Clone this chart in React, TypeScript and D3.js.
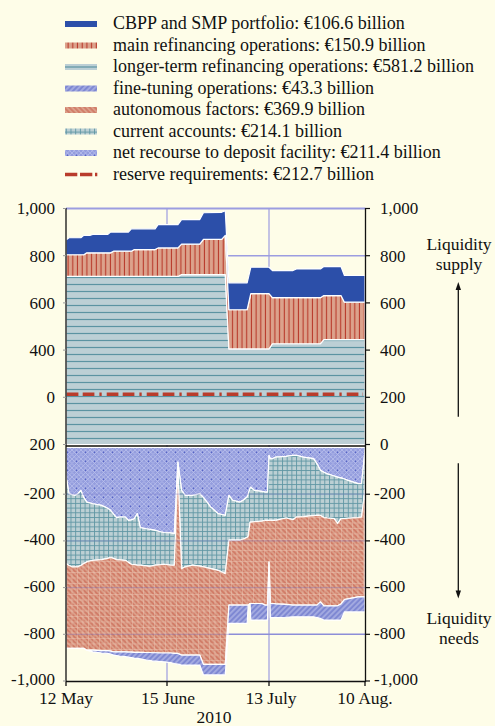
import React from 'react';
import * as d3 from 'd3';

// ---------- data ----------
const BASE = new Date(2010, 4, 12);
const tickDates = [new Date(2010, 4, 12), new Date(2010, 5, 15), new Date(2010, 6, 13), new Date(2010, 7, 10)];
const tickLabels = ['12 May', '15 June', '13 July', '10 Aug.'];
const yearLabel = '2010';

// liquidity supply (EUR bn), day offsets from 12 May 2010
const supplyDays = [0, 1, 5, 6, 7, 8, 9, 14, 15, 16, 21, 22, 23, 30, 31, 37, 38, 43, 44, 49, 50, 51, 56, 57, 62, 63, 69, 70, 77, 78, 83, 84, 90];
const ltroValues = [712, 712, 712, 712, 712, 712, 712, 712, 712, 712, 712, 712, 712, 712, 712, 712, 720, 720, 720, 720, 720, 405, 405, 405, 405, 427, 427, 427, 427, 444, 444, 444, 444];
const mroValues = [92, 92, 92, 92, 100, 100, 100, 100, 100, 107, 107, 107, 114, 114, 121, 121, 129, 129, 149, 149, 166, 166, 166, 234, 234, 195, 195, 195, 195, 187, 187, 159, 159];
const cbppValues = [63, 72, 72, 82, 74, 74, 78, 78, 88, 81, 81, 95, 88, 88, 99, 99, 104, 104, 113, 115, 105, 114, 114, 112, 112, 115, 115, 122, 122, 123, 123, 113, 113];

// liquidity needs (EUR bn)
const needDays = [
  0, 1, 2, 3, 4, 5, 6, 7, 9, 12,
  14, 15, 16, 17, 18, 20, 21, 22, 23, 24,
  25, 27, 28, 29, 30, 32, 33, 35, 36, 37,
  38, 39, 41, 43, 44, 45, 46, 47, 48, 49,
  50, 51, 52, 54, 55, 56, 56.3, 56.8, 57, 58, 60, 61, 61.6,
  62, 62.4, 63, 64, 67, 69, 70, 72, 75, 76, 77,
  78, 79, 81, 82, 83, 84, 85, 88, 89, 90];
const depositValues = [
  -120, -198, -202, -205, -198, -184, -215, -234, -241, -248,
  -260, -269, -285, -300, -298, -298, -312, -310, -305, -283,
  -343, -348, -350, -352, -355, -362, -364, -366, -369, -63,
  -184, -205, -205, -198, -215, -234, -255, -269, -283, -287,
  -291, -205, -226, -234, -225, -212, -200, -175, -170, -184, -188, -191, -191,
  -34, -48, -48, -41, -38, -34, -34, -41, -48, -70, -98,
  -106, -113, -122, -127, -130, -135, -141, -155, -155, -13];
const currentAccountValues = [
  -377, -307, -309, -306, -313, -321, -282, -256, -242, -232,
  -215, -202, -190, -180, -183, -185, -180, -190, -197, -221,
  -161, -159, -159, -155, -149, -140, -136, -138, -135, -27,
  -335, -306, -299, -310, -296, -281, -264, -253, -243, -246,
  -249, -192, -171, -163, -167, -173, -180, -145, -150, -134, -127, -121, -121,
  -278, -264, -264, -271, -264, -275, -264, -255, -244, -221, -193,
  -194, -189, -183, -199, -175, -170, -162, -145, -143, -167];
const autonomousValues = [
  -363, -355, -349, -349, -349, -355, -363, -378, -385, -390,
  -395, -401, -400, -395, -394, -392, -384, -376, -375, -373,
  -373, -371, -369, -372, -375, -378, -380, -376, -378, -792,
  -370, -378, -385, -381, -418, -414, -410, -407, -403, -396,
  -389, -278, -278, -278, -283, -290, -295, -348, -348, -350, -353, -363, -363,
  -178, -356, -356, -358, -370, -366, -377, -379, -383, -384, -370,
  -378, -376, -373, -352, -365, -346, -345, -340, -342, -460];
const fineTuningValues = [
  0, 0, 0, 0, 0, 0, 0, 0, -7, -10,
  -12, -13, -14, -16, -18, -21, -22, -24, -25, -26,
  -28, -32, -34, -35, -36, -37, -38, -41, -43, -46,
  -43, -43, -43, -43, -45, -45, -45, -45, -45, -45,
  -45, -78, -78, -78, -78, -78, 0, 0, -71, -71, -71, -64, -64,
  0, -61, -61, -59, -55, -50, -50, -50, -50, -53, -71,
  -61, -61, -61, -61, -69, -53, -56, -64, -64, -64];
const reserveRequirement = 212.7;

const rightTopTicks = [1000, 800, 600, 400, 200, 0];
const rightTopLabels = ['1,000', '800', '600', '400', '200', '0'];
const leftTopLabels = ['1,000', '800', '600', '400', '0', '200'];
const bottomTicks = [-200, -400, -600, -800, -1000];
const bottomLabels = ['-200', '-400', '-600', '-800', '-1,000'];

const legendLabels = [
  'CBPP and SMP portfolio: €106.6 billion',
  'main refinancing operations: €150.9 billion',
  'longer-term refinancing operations: €581.2 billion',
  'fine-tuning operations: €43.3 billion',
  'autonomous factors: €369.9 billion',
  'current accounts: €214.1 billion',
  'net recourse to deposit facility: €211.4 billion',
  'reserve requirements: €212.7 billion',
];

// ---------- styling ----------
const BG = '#fefde8';
const FONT = "'Liberation Serif', 'Times New Roman', serif";
const GRID = '#9c9de0';
const BLUE = '#2c4fa9';
const RED = '#b93c2c';
const TICK_FS = 17;

const dayToDate = (d: number) => new Date(BASE.getTime() + d * 86400000);

export default function App() {
  const x = d3.scaleTime().domain(tickDates).range([66, 167, 269, 365]);
  const yTop = d3.scaleLinear().domain([0, 1000]).range([444.5, 208.5]);
  const yBot = d3.scaleLinear().domain([0, -1000]).range([447.5, 681]);
  const L = 66, R = 365.5;

  const supplyRows = supplyDays.map((d, i) => ({ day: d, ltro: ltroValues[i], mro: mroValues[i], cbpp: cbppValues[i] }));
  const supplyStack = d3.stack<any>().keys(['ltro', 'mro', 'cbpp'])(supplyRows);
  const needRows = needDays.map((d, i) => ({
    day: d, dep: depositValues[i], ca: currentAccountValues[i], aut: autonomousValues[i], fto: fineTuningValues[i],
  }));
  const needStack = d3.stack<any>().keys(['dep', 'ca', 'aut', 'fto'])(needRows);

  const areaTop = d3.area<any>().x((d) => x(dayToDate(d.data.day))).y0((d) => yTop(d[0])).y1((d) => yTop(d[1]));
  const areaBot = d3.area<any>().x((d) => x(dayToDate(d.data.day))).y0((d) => yBot(d[0])).y1((d) => yBot(d[1]));

  const topFills: Record<string, string> = { ltro: 'url(#pLtro)', mro: 'url(#pMro)', cbpp: BLUE };
  const botFills: Record<string, string> = { dep: 'url(#pDep)', ca: 'url(#pCa)', aut: 'url(#pAut)', fto: 'url(#pFto)' };

  const x0 = x(dayToDate(0));
  const x1 = x(dayToDate(90));

  const legendY0 = 29.3;
  const legendStep = 21.5;
  const swatchFills = [BLUE, 'url(#pMro)', '#bccfd5', 'url(#pFto)', 'url(#pAut)', 'url(#pCa)', 'url(#pDep)', null];

  return (
    <svg width={495} height={726} style={{ position: 'absolute', left: 0, top: 0, display: 'block' }} fontFamily={FONT}>
      <defs>
        <pattern id="pLtro" width="8" height="7" patternUnits="userSpaceOnUse" y="1">
          <rect width="8" height="7" fill="#bccfd5" />
          <line x1="0" x2="8" y1="3.5" y2="3.5" stroke="#5b93a2" strokeWidth="1.2" />
        </pattern>
        <pattern id="pMro" width="4.7" height="8" patternUnits="userSpaceOnUse">
          <rect width="4.7" height="8" fill="#dca28c" />
          <line x1="2.3" x2="2.3" y1="0" y2="8" stroke="#b8392a" strokeWidth="1.1" />
        </pattern>
        <pattern id="pDep" width="9" height="9" patternUnits="userSpaceOnUse">
          <rect width="9" height="9" fill="#959ede" />
          <path d="M0,0 L9,9 M9,0 L0,9 M4.5,0 L9,4.5 L4.5,9 L0,4.5 Z" stroke="#b9bfec" strokeWidth="0.8" fill="none" />
          <circle cx="4.5" cy="2.25" r="0.7" fill="#4c5bc2" />
        </pattern>
        <pattern id="pCa" width="4.7" height="4.7" patternUnits="userSpaceOnUse">
          <rect width="4.7" height="4.7" fill="#bcd0d4" />
          <path d="M0,0.5 H4.7 M0.5,0 V4.7" stroke="#5f97a3" strokeWidth="0.9" />
        </pattern>
        <pattern id="pAut" width="3.6" height="3.6" patternUnits="userSpaceOnUse" patternTransform="rotate(-45)">
          <rect width="3.6" height="3.6" fill="#db9f89" />
          <line x1="1.8" x2="1.8" y1="0" y2="3.6" stroke="#c85b48" strokeWidth="0.9" />
        </pattern>
        <pattern id="pAutGrid" width="5.5" height="5.5" patternUnits="userSpaceOnUse">
          <path d="M0,0.5 H5.5 M0.5,0 V5.5" stroke="#f3d2c0" strokeWidth="0.8" opacity="0.5" />
        </pattern>
        <pattern id="pFto" width="3.8" height="3.8" patternUnits="userSpaceOnUse" patternTransform="rotate(45)">
          <rect width="3.8" height="3.8" fill="#a2a9e0" />
          <line x1="1.9" x2="1.9" y1="0" y2="3.8" stroke="#5663c3" strokeWidth="0.9" />
        </pattern>
      </defs>

      <rect x={0} y={0} width={495} height={726} fill={BG} />

      {/* legend */}
      {legendLabels.map((lab, i) => {
        const by = legendY0 + i * legendStep;
        const cy = by - 5.3;
        return (
          <g key={lab}>
            {i === 7 ? (
              <line x1={65} x2={97.3} y1={cy} y2={cy} stroke={RED} strokeWidth={3.6} strokeDasharray="12.3 2.7 12.3 2.7 2.3 3" />
            ) : (
              <rect x={65} y={cy - 3} width={32} height={6} fill={swatchFills[i] as string} />
            )}
            {i === 2 && <line x1={65} x2={97} y1={cy} y2={cy} stroke="#5b93a2" strokeWidth={1.2} />}
            <text x={113} y={by} fontSize={18} fill="#111">{lab}</text>
          </g>
        );
      })}

      {/* background gridlines */}
      {rightTopTicks.filter((v) => v > 0).map((v) => (
        <line key={'gt' + v} x1={L} x2={R} y1={yTop(v)} y2={yTop(v)} stroke={GRID} strokeWidth={v === 1000 ? 2 : 1.5} />
      ))}
      {bottomTicks.filter((v) => v > -1000).map((v) => (
        <line key={'gb' + v} x1={L} x2={R} y1={yBot(v)} y2={yBot(v)} stroke={GRID} strokeWidth={1.5} />
      ))}
      {tickDates.slice(1, 3).map((d, i) => (
        <line key={'gv' + i} x1={x(d)} x2={x(d)} y1={208.5} y2={681} stroke={GRID} strokeWidth={1.2} />
      ))}

      {/* supply areas */}
      {supplyStack.map((s) => (
        <path key={s.key} d={areaTop(s as any) || ''} fill={topFills[s.key]} stroke="#ffffff" strokeWidth={1.2} strokeLinejoin="round" />
      ))}

      {/* needs areas */}
      {needStack.map((s) => (
        <g key={s.key}>
          <path d={areaBot(s as any) || ''} fill={botFills[s.key]} stroke="#ffffff" strokeWidth={1.2} strokeLinejoin="round" />
          {s.key === 'aut' && <path d={areaBot(s as any) || ''} fill="url(#pAutGrid)" stroke="none" />}
        </g>
      ))}

      {/* faint grid over needs */}
      {bottomTicks.filter((v) => v > -1000).map((v) => (
        <line key={'go' + v} x1={L} x2={R} y1={yBot(v)} y2={yBot(v)} stroke="#6c6cc4" strokeWidth={1.2} opacity={0.3} />
      ))}

      {/* reserve requirements */}
      <line x1={x0 + 0.7} x2={x1 - 2} y1={yTop(reserveRequirement)} y2={yTop(reserveRequirement)} stroke={RED} strokeWidth={3.6} strokeDasharray="11.7 4.3 11.7 5 2.3 5" />

      {/* axes */}
      <line x1={L} x2={L} y1={208} y2={682} stroke="#111" strokeWidth={1.3} />
      <line x1={R} x2={R} y1={208} y2={682} stroke="#111" strokeWidth={1.3} />
      <line x1={L} x2={R} y1={446} y2={446} stroke="#111" strokeWidth={1.3} />
      <line x1={L} x2={R} y1={681.5} y2={681.5} stroke="#111" strokeWidth={1.3} />
      {tickDates.map((d, i) => (
        <line key={'bt' + i} x1={x(d)} x2={x(d)} y1={681.5} y2={686} stroke="#111" strokeWidth={1.3} />
      ))}

      {/* tick labels */}
      {rightTopTicks.map((v, i) => (
        <g key={'rt' + v}>
          <line x1={R} x2={R + 4.5} y1={yTop(v)} y2={yTop(v)} stroke="#111" strokeWidth={1.2} />
          <line x1={L - 3} x2={L} y1={yTop(v)} y2={yTop(v)} stroke="#999" strokeWidth={1} />
          <text x={380} y={yTop(v)} dy="0.35em" fontSize={TICK_FS} fill="#111">{rightTopLabels[i]}</text>
          <text x={55} y={yTop(v)} dy="0.35em" fontSize={TICK_FS} fill="#111" textAnchor="end">{leftTopLabels[i]}</text>
        </g>
      ))}
      {bottomTicks.map((v, i) => (
        <g key={'rb' + v}>
          <line x1={R} x2={R + 4.5} y1={yBot(v)} y2={yBot(v)} stroke="#111" strokeWidth={1.2} />
          <line x1={L - 3} x2={L} y1={yBot(v)} y2={yBot(v)} stroke="#999" strokeWidth={1} />
          <text x={374} y={yBot(v) - 1.5} dy="0.35em" fontSize={TICK_FS} fill="#111">{bottomLabels[i]}</text>
          <text x={55} y={yBot(v) - 1.5} dy="0.35em" fontSize={TICK_FS} fill="#111" textAnchor="end">{bottomLabels[i]}</text>
        </g>
      ))}
      {tickDates.map((d, i) => (
        <text key={'tl' + i} x={x(d) + (i === 1 ? 1 : i === 2 ? 2 : 0)} y={704} fontSize={17.5} fill="#111" textAnchor="middle">{tickLabels[i]}</text>
      ))}
      <text x={214} y={722.5} fontSize={17.5} fill="#111" textAnchor="middle">{yearLabel}</text>

      {/* side annotations */}
      <text x={459} y={249.5} fontSize={17.5} fill="#111" textAnchor="middle">Liquidity</text>
      <text x={459} y={270} fontSize={17.5} fill="#111" textAnchor="middle">supply</text>
      <line x1={458.3} x2={458.3} y1={416.7} y2={289} stroke="#111" strokeWidth={1.3} />
      <path d="M458.3,282 L455.6,290 L461,290 Z" fill="#111" />

      <text x={459} y={623.5} fontSize={17.5} fill="#111" textAnchor="middle">Liquidity</text>
      <text x={459} y={643.5} fontSize={17.5} fill="#111" textAnchor="middle">needs</text>
      <line x1={458.3} x2={458.3} y1={463.3} y2={591} stroke="#111" strokeWidth={1.3} />
      <path d="M458.3,598.5 L455.6,590.5 L461,590.5 Z" fill="#111" />
    </svg>
  );
}
